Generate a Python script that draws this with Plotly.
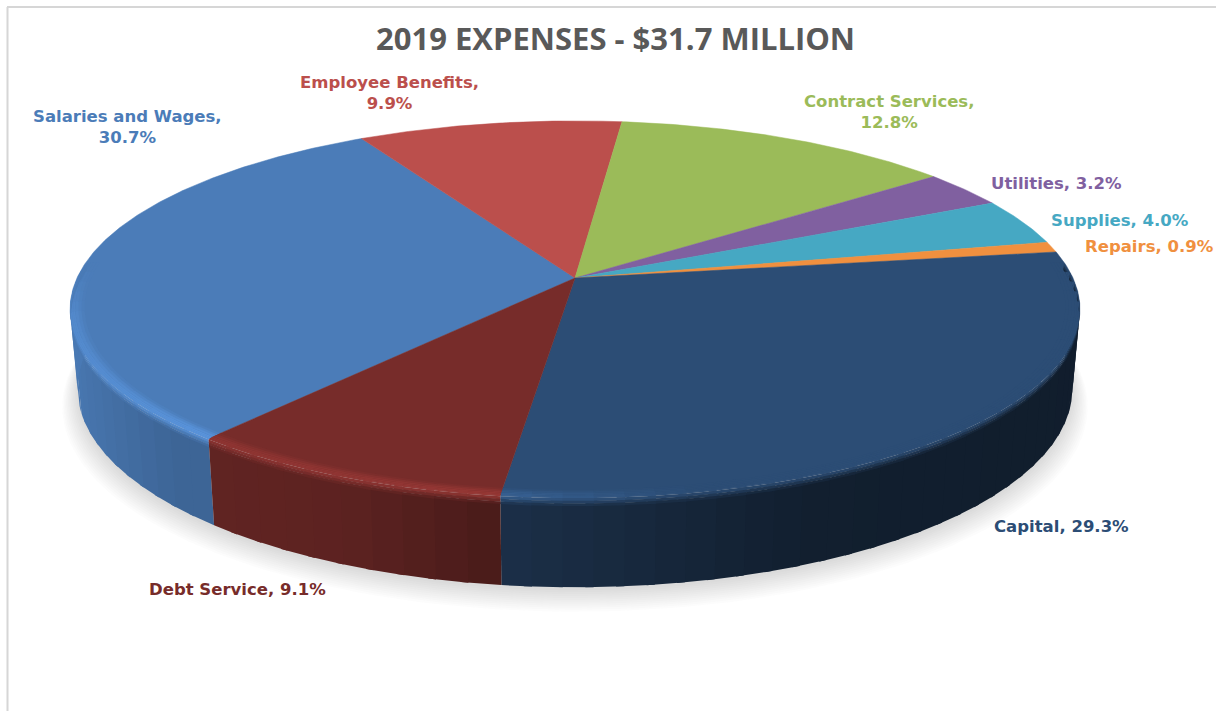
import numpy as np
import plotly.graph_objects as go

# Expense shares for 2019, clockwise from the first slice
categories = ["Salaries and Wages", "Employee Benefits", "Contract Services", "Utilities",
              "Supplies", "Repairs", "Capital", "Debt Service"]
shares = [30.7, 9.9, 12.8, 3.2, 4.0, 0.9, 29.3, 9.1]
slice_colors = ["#4b7cb8", "#bb4f4c", "#9bbb59", "#8060a0", "#46a8c3", "#f0903f", "#2c4d75", "#772c2a"]
label_spots = [(127, 127), (389, 93), (889, 112), (1056, 183), (1120, 220), (1149, 246), (1061, 526), (237, 589)]
TITLE = "2019 EXPENSES - $31.7 MILLION"

# Perspective model of the tilted disc, in page pixels
CX, CY, A, B, K, DROP, SHRINK = 575.0, 278.0, 498.0, 183.0, 0.165, 78.0, 0.015
FIRST_ANGLE = 230.0


def project(theta_deg, r=1.0, depth=0.0):
    t = np.radians(theta_deg)
    x, y = r * np.cos(t), r * np.sin(t)
    w = 1 + K * y
    s = 1 - SHRINK * depth
    return CX + A * x * s / w, CY - B * y * s / w + DROP * depth / w


def rgb(hex_color):
    return np.array([int(hex_color[i:i + 2], 16) for i in (1, 3, 5)], dtype=float)


def css(c):
    c = np.clip(c, 0, 255)
    return f"rgb({c[0]:.0f},{c[1]:.0f},{c[2]:.0f})"


def rim_factor(theta):
    u = (np.cos(np.radians(theta)) + 1) / 2
    return np.interp(u, [0, .14, .30, .43, .70, 1], [.98, .82, .78, .62, .40, .38])


def glow_factor(theta):
    u = (np.cos(np.radians(theta)) + 1) / 2
    lift = np.interp(u, [0, .15, .43, .60, 1], [1.10, 1.18, 1.25, 1.0, 1.0])
    fade = np.clip((-np.sin(np.radians(theta)) + 0.05) / 0.25, 0, 1)
    return 1 + (lift - 1) * fade


def band_trace(th, r0, d0, r1, d1, color):
    x0, y0 = project(th, r0, d0)
    x1, y1 = project(th, r1, d1)
    return go.Scatter(x=np.r_[x0, x1[::-1]], y=np.r_[y0, y1[::-1]], mode="lines", fill="toself",
                      fillcolor=color, line=dict(width=0), hoverinfo="skip", showlegend=False)


fig = go.Figure()

# Soft ground shadow under the disc
ring = np.linspace(0, 360, 241)
for i in range(12):
    f = i / 11
    gx, gy = project(ring, 1.0 + 0.03 * (1 - f), 1.0)
    gy = gy + 3 + 13 * (1 - f)
    fig.add_trace(go.Scatter(x=gx, y=gy, mode="lines", fill="toself", line=dict(width=0),
                             fillcolor="rgba(90,90,90,0.018)", hoverinfo="skip", showlegend=False))

# Angular extent of every slice, running clockwise
sweeps = np.array(shares) / sum(shares) * 360
starts = FIRST_ANGLE - np.r_[0, np.cumsum(sweeps)[:-1]]
ends = starts - sweeps

# Side wall of the disc, then its rounded shoulder, for the front-facing arc.
# Chunks overlap the next one a little so no hairline shows between them.
FRONT_HI, FRONT_LO = 365.0, 175.0
walls, shoulders = [], []
for start, end, col in zip(starts, ends, slice_colors):
    base = rgb(col)
    for turn in (0, 360):
        hi, lo = min(start + turn, FRONT_HI), max(end + turn, FRONT_LO)
        if hi <= lo:
            continue
        edges = np.linspace(hi, lo, max(2, int((hi - lo) / 3) + 1))
        for a, b in zip(edges[:-1], edges[1:]):
            th = np.linspace(a, max(b - 0.8, lo), 5)
            mid = (a + b) / 2
            wall = base * rim_factor(mid)
            glow = base * glow_factor(mid)
            walls.append(band_trace(th, 1.0, 0.08, 1.0, 1.0, css(wall)))
            stops = [(0.972, 0.0, base), (0.990, 0.0, glow), (1.0, 0.012, glow), (1.0, 0.10, wall)]
            for (r0, d0, c0), (r1, d1, c1) in zip(stops[:-1], stops[1:]):
                for k in range(3):
                    p, q = k / 3, (k + 1.15) / 3
                    q = min(q, 1.0)
                    shoulders.append(band_trace(th, r0 + (r1 - r0) * p, d0 + (d1 - d0) * p,
                                                r0 + (r1 - r0) * q, d0 + (d1 - d0) * q,
                                                css(c0 + (c1 - c0) * (p + q) / 2)))
fig.add_traces(walls)

# Flat top face of the pie
for name, value, start, end, col in zip(categories, shares, starts, ends, slice_colors):
    th = np.linspace(start, end, max(8, int(start - end) * 2))
    ex, ey = project(th)
    fig.add_trace(go.Scatter(x=np.r_[CX, ex, CX], y=np.r_[CY, ey, CY], mode="lines", fill="toself",
                             fillcolor=col, line=dict(color=col, width=0.5), name=name,
                             text=f"{name}, {value:.1f}%", hoverinfo="text", showlegend=False))
fig.add_traces(shoulders)

# Data labels beside each slice
for name, value, (lx, ly), col in zip(categories, shares, label_spots, slice_colors):
    two_line = name in ("Salaries and Wages", "Employee Benefits", "Contract Services")
    text = f"{name},<br>{value:.1f}%" if two_line else f"{name}, {value:.1f}%"
    fig.add_annotation(x=lx, y=ly, text=text, showarrow=False, xanchor="center", yanchor="middle",
                       font=dict(family="DejaVu Sans", size=16.5, color=col, weight="bold"))

fig.add_annotation(x=615, y=38, text=TITLE, showarrow=False, xanchor="center", yanchor="middle",
                   font=dict(family="Open Sans", size=31, color="#595959", weight="bold"))

# Thin frame along the top and left of the chart area
frame = dict(color="#d6d6d6", width=2)
fig.add_shape(type="line", x0=7, x1=1216, y0=7, y1=7, line=frame)
fig.add_shape(type="line", x0=7.5, x1=7.5, y0=7, y1=711, line=frame)

fig.update_layout(width=1216, height=711, autosize=False, margin=dict(l=0, r=0, t=0, b=0),
                  paper_bgcolor="white", plot_bgcolor="white", showlegend=False,
                  xaxis=dict(range=[0, 1216], visible=False, fixedrange=True),
                  yaxis=dict(range=[711, 0], visible=False, fixedrange=True))
fig.write_html("out.html", config=dict(displayModeBar=False))
